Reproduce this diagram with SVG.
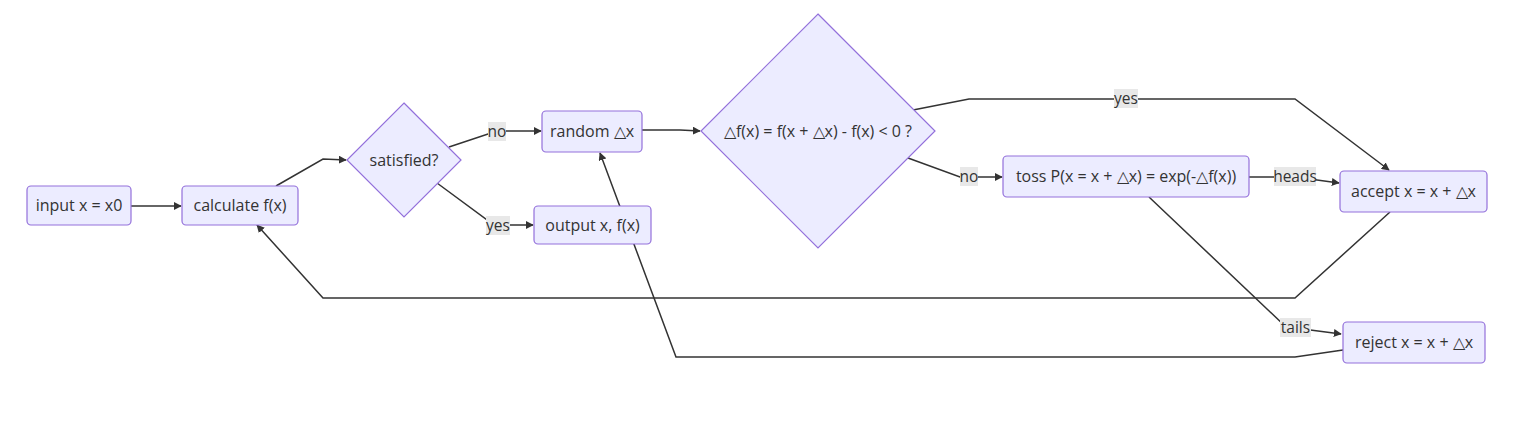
<svg xmlns="http://www.w3.org/2000/svg" width="1526" height="426" viewBox="0 0 1526 426">
<style>
.node rect,.node polygon{fill:#ECECFF;stroke:#9370DB;stroke-width:1.2}
.node text{font-family:"Open Sans","Liberation Sans",Arial,sans-serif;font-size:16px;fill:#333;text-anchor:middle;dominant-baseline:central}
.edge{fill:none;stroke:#333;stroke-width:1.5}
.lbl rect{fill:#e8e8e8;stroke:none}
.lbl text{font-family:"Open Sans","Liberation Sans",Arial,sans-serif;font-size:15.5px;fill:#333;text-anchor:middle;dominant-baseline:central}
</style>
<defs>
<marker id="arr" viewBox="0 0 10 10" refX="9" refY="5" markerWidth="8" markerHeight="8" markerUnits="userSpaceOnUse" orient="auto">
<path d="M0,0 L10,5 L0,10 z" fill="#333"/>
</marker>
</defs>
<rect width="1526" height="426" fill="#fff"/>
<g id="connectors">
<path class="edge" d="M131,206 L181,206" marker-end="url(#arr)"/>
<path class="edge" d="M276,186 L323,159 L346,160" marker-end="url(#arr)"/>
<path class="edge" d="M449,147 L497,131 L541,131" marker-end="url(#arr)"/>
<path class="edge" d="M437,183 L490,222 L497,225 L533,225" marker-end="url(#arr)"/>
<path class="edge" d="M642,130 L680,130 L700,131" marker-end="url(#arr)"/>
<path class="edge" d="M913,110 L969,99 L1295,99 L1389,170" marker-end="url(#arr)"/>
<path class="edge" d="M908,158 L960,177 L1002,177" marker-end="url(#arr)"/>
<path class="edge" d="M1249,177 L1295,177 L1339,183" marker-end="url(#arr)"/>
<path class="edge" d="M1149,197 L1285,326 L1295,328 L1341,334" marker-end="url(#arr)"/>
<path class="edge" d="M1390,212 L1295,298 L323,298 L257,225" marker-end="url(#arr)"/>
<path class="edge" d="M1343,350 L1295,357 L676,357 L600,153" marker-end="url(#arr)"/>
<g class="lbl"><rect x="488" y="122" width="18" height="19"/><text x="497" y="131">no</text></g>
<g class="lbl"><rect x="486" y="216" width="24" height="19"/><text x="498" y="225">yes</text></g>
<g class="lbl"><rect x="1114" y="89" width="24" height="19"/><text x="1126" y="98">yes</text></g>
<g class="lbl"><rect x="960" y="167" width="18" height="19"/><text x="969" y="176">no</text></g>
<g class="lbl"><rect x="1274" y="167" width="42" height="19"/><text x="1295" y="176">heads</text></g>
<g class="lbl"><rect x="1280" y="318" width="31" height="19"/><text x="1295.5" y="327">tails</text></g>
</g>
<g id="n_input" class="node"><rect x="27" y="186" width="104" height="39" rx="4"/><text x="79" y="205">input x = x0</text></g>
<g id="n_calc" class="node"><rect x="182" y="186" width="116" height="39" rx="4"/><text x="240" y="205">calculate f(x)</text></g>
<g id="n_sat" class="node"><polygon points="404,103 461,160 404,217 347,160"/><text x="404" y="159.5">satisfied?</text></g>
<g id="n_rand" class="node"><rect x="542" y="111" width="100" height="41" rx="4"/><text x="592" y="130.5">random △x</text></g>
<g id="n_out" class="node"><rect x="534" y="206" width="117" height="38" rx="4"/><text x="592.5" y="224.5">output x, f(x)</text></g>
<g id="n_df" class="node"><polygon points="818,14 935,131 818,248 701,131"/><text x="818" y="130.5">△f(x) = f(x + △x) - f(x) &lt; 0 ?</text></g>
<g id="n_toss" class="node"><rect x="1003" y="156" width="246" height="41" rx="4"/><text x="1126" y="176">toss P(x = x + △x) = exp(-△f(x))</text></g>
<g id="n_acc" class="node"><rect x="1340" y="171" width="147" height="41" rx="4"/><text x="1413.5" y="191">accept x = x + △x</text></g>
<g id="n_rej" class="node"><rect x="1343" y="322" width="142" height="41" rx="4"/><text x="1414" y="342">reject x = x + △x</text></g>
</svg>
